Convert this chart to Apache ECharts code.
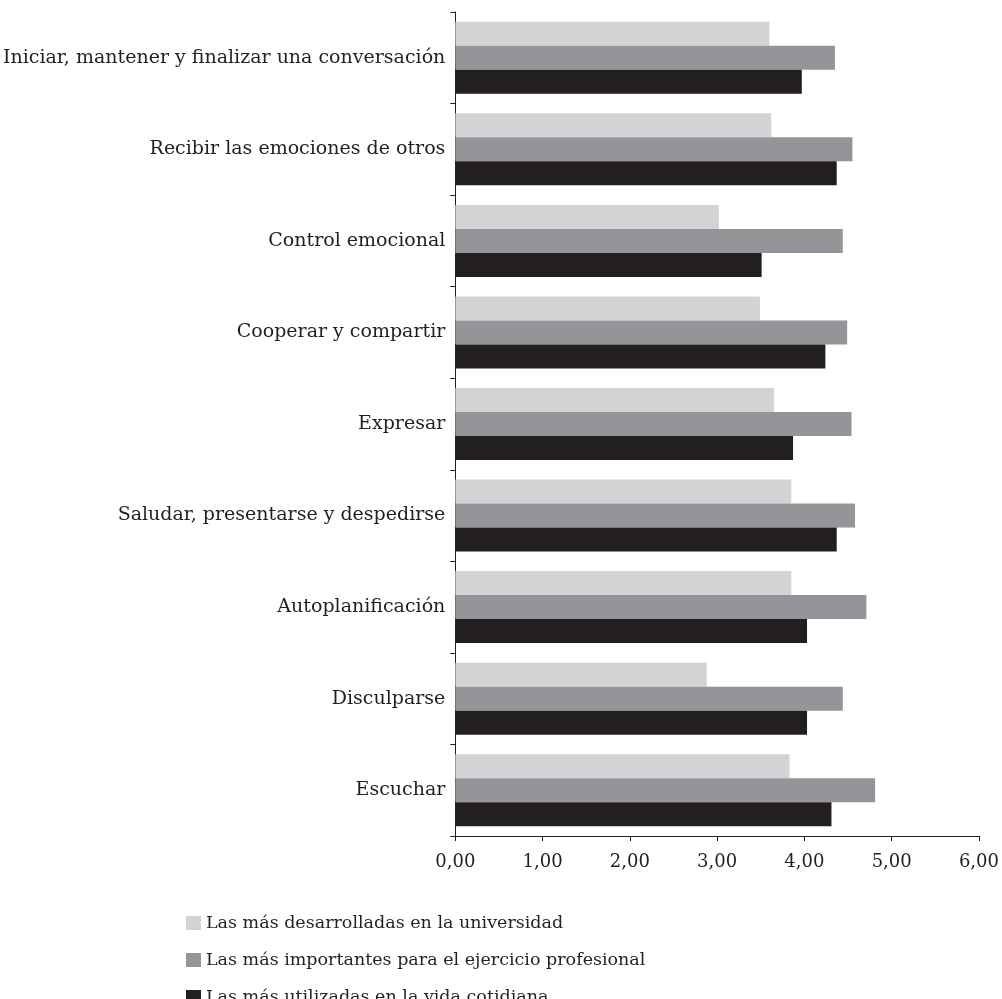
<!DOCTYPE html>
<html>
<head>
<meta charset="utf-8">
<script src="https://cdn.jsdelivr.net/npm/echarts@6/dist/echarts.min.js"></script>
<style>
  html, body { margin: 0; padding: 0; background: #fff; }
  #chart { width: 1002px; height: 999px; }
</style>
</head>
<body>
<div id="chart"></div>
<script>
// categories, top to bottom
const categories = [
  'Iniciar, mantener y finalizar una conversación',
  'Recibir las emociones de otros',
  'Control emocional',
  'Cooperar y compartir',
  'Expresar',
  'Saludar, presentarse y despedirse',
  'Autoplanificación',
  'Disculparse',
  'Escuchar'
];

const seriesNames = [
  'Las más desarrolladas en la universidad',
  'Las más importantes para el ejercicio profesional',
  'Las más utilizadas en la vida cotidiana'
];

const desarrolladas = [3.60, 3.62, 3.02, 3.49, 3.65, 3.85, 3.85, 2.88, 3.83];
const importantes = [4.35, 4.55, 4.44, 4.49, 4.54, 4.58, 4.71, 4.44, 4.81];
const utilizadas = [3.97, 4.37, 3.51, 4.24, 3.87, 4.37, 4.03, 4.03, 4.31];

const colors = ['#d1d3d4', '#939598', '#231f20'];
const font = '"DejaVu Serif", "Liberation Serif", serif';

const myChart = echarts.init(document.getElementById('chart'));

const makeSeries = (name, data, color) => ({
  name: name,
  type: 'bar',
  data: data,
  barWidth: 24,
  barGap: '0%',
  itemStyle: { color: color },
  silent: true
});

// one legend per item so they stack without wrapping
const makeLegend = (name, top) => ({
  orient: 'vertical',
  left: 181,
  top: top,
  icon: 'rect',
  itemWidth: 15,
  itemHeight: 14,
  itemGap: 0,
  textStyle: { color: '#231f20', fontFamily: font, fontSize: 17.5 },
  data: [name]
});

const option = {
  animation: false,
  textStyle: { fontFamily: font },
  grid: { left: 455, right: 17, top: 12, height: 824, containLabel: false },
  xAxis: {
    type: 'value',
    min: 0,
    max: 6,
    interval: 1,
    axisLine: { show: true, lineStyle: { color: '#231f20', width: 1 } },
    axisTick: { show: true, length: 5, lineStyle: { color: '#231f20' } },
    splitLine: { show: false },
    axisLabel: {
      color: '#231f20',
      fontFamily: font,
      fontSize: 18,
      margin: 17,
      formatter: v => v.toFixed(2).replace('.', ',')
    }
  },
  yAxis: {
    type: 'category',
    inverse: true,
    data: categories,
    axisLine: { show: true, lineStyle: { color: '#231f20', width: 1 } },
    axisTick: { show: true, length: 5, lineStyle: { color: '#231f20' } },
    axisLabel: {
      color: '#231f20',
      fontFamily: font,
      fontSize: 19,
      margin: 10
    }
  },
  legend: [
    makeLegend(seriesNames[0], 909),
    makeLegend(seriesNames[1], 946),
    makeLegend(seriesNames[2], 983)
  ],
  series: [
    makeSeries(seriesNames[0], desarrolladas, colors[0]),
    makeSeries(seriesNames[1], importantes, colors[1]),
    makeSeries(seriesNames[2], utilizadas, colors[2])
  ]
};

myChart.setOption(option);
</script>
</body>
</html>
